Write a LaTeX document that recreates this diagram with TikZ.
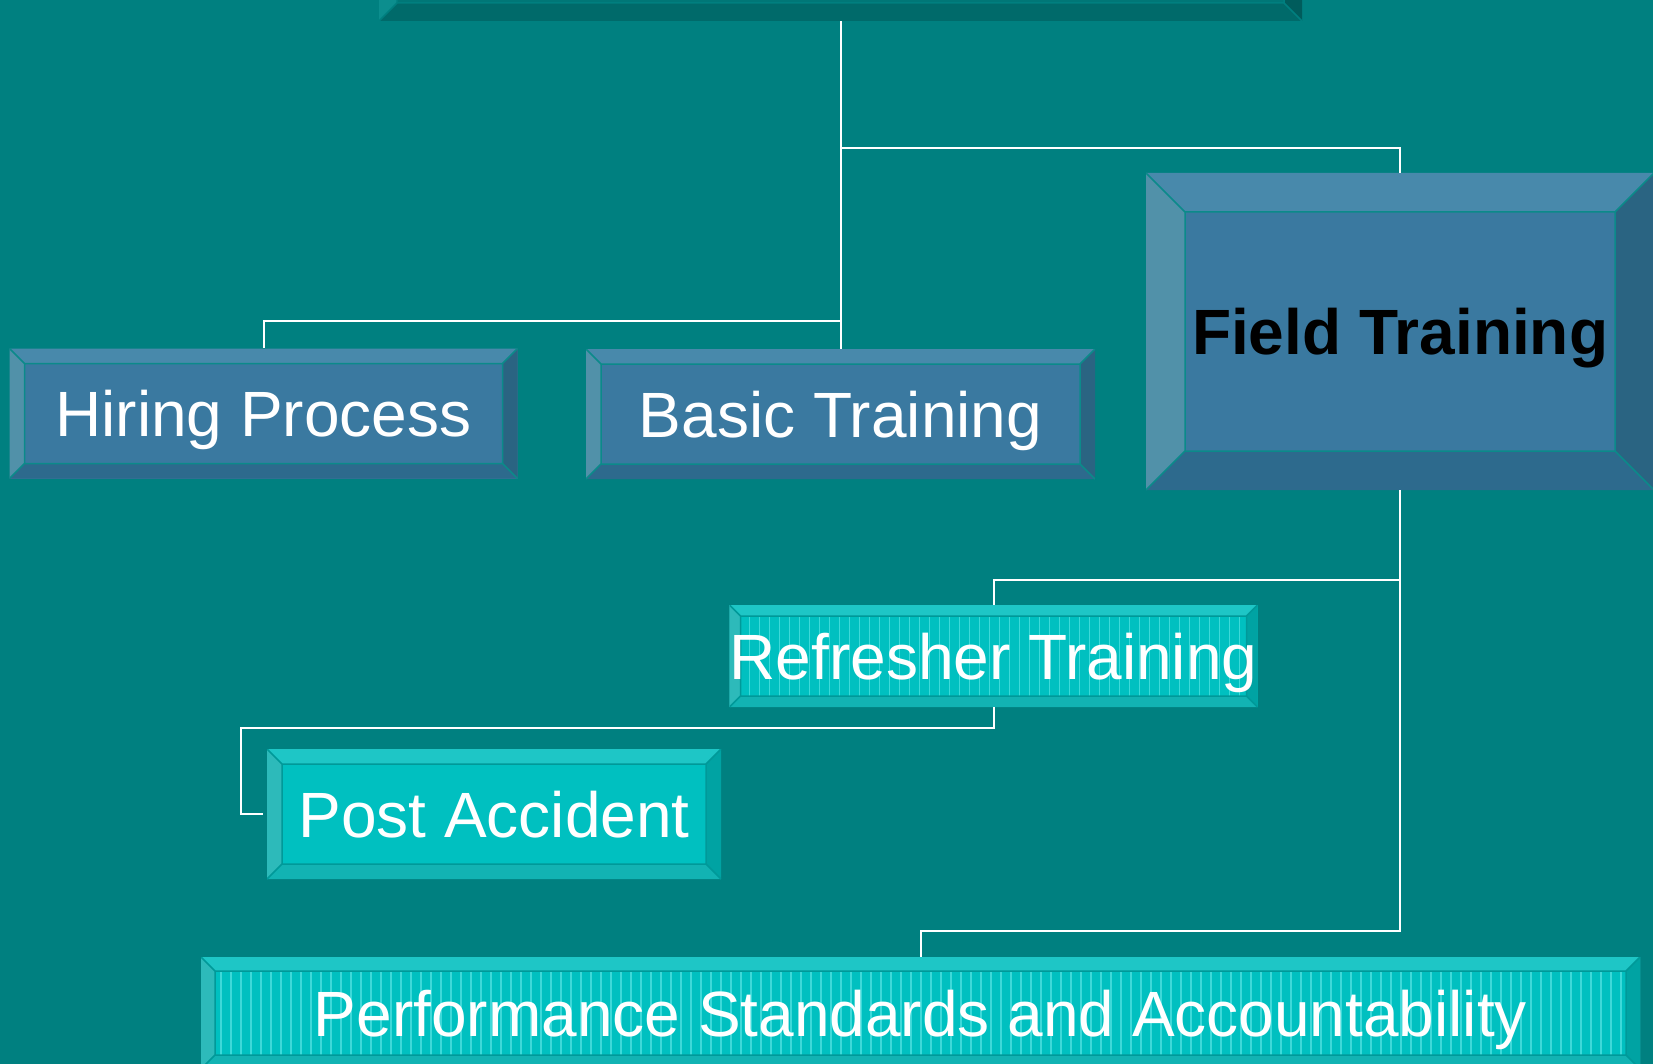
\documentclass[tikz,border=0pt]{standalone}
\usepackage{fontspec}
\setmainfont{Liberation Sans}
\usepackage{tikz}
\usetikzlibrary{positioning}

\definecolor{bgteal}{HTML}{008080}
\definecolor{blueface}{HTML}{3A79A0}
\definecolor{bluetop}{HTML}{4889AB}
\definecolor{blueleft}{HTML}{5191A9}
\definecolor{blueright}{HTML}{2A6482}
\definecolor{bluebottom}{HTML}{2D6A8D}
\definecolor{blueline}{HTML}{0B8A8A}
\definecolor{cyanface}{HTML}{00C0C0}
\definecolor{cyantop}{HTML}{1EC6C6}
\definecolor{cyanleft}{HTML}{2DBABA}
\definecolor{cyanright}{HTML}{00A3A3}
\definecolor{cyanbottom}{HTML}{12B3B3}
\definecolor{cyanline}{HTML}{009999}
\definecolor{stripecol}{HTML}{3DD9D9}
\definecolor{tealface}{HTML}{007777}
\definecolor{tealtop}{HTML}{008A8A}
\definecolor{tealleft}{HTML}{0C8E8E}
\definecolor{tealright}{HTML}{005C5C}
\definecolor{tealbottom}{HTML}{006A6A}
\definecolor{tealline}{HTML}{007F7F}

\newcommand\boxfont{\fontsize{64pt}{72pt}\selectfont}
\def\bvextra{}
\newcommand\bvstripes{\foreach \s in {0,10,...,1440} {\draw [stripecol, line width=1.2pt] ([xshift=\s pt]pnw) -- ([xshift=\s pt]psw);}}

% four bevel faces round the inner face of a box
\newcommand\bvpaint{%
  \path (path picture bounding box.north west) coordinate (pnw)
        (path picture bounding box.north east) coordinate (pne)
        (path picture bounding box.south east) coordinate (pse)
        (path picture bounding box.south west) coordinate (psw);
  \path ([xshift= \bvsize pt, yshift=-\bvsize pt]pnw) coordinate (inw)
        ([xshift=-\bvsize pt, yshift=-\bvsize pt]pne) coordinate (ine)
        ([xshift=-\bvsize pt, yshift= \bvsize pt]pse) coordinate (ise)
        ([xshift= \bvsize pt, yshift= \bvsize pt]psw) coordinate (isw);
  \fill [\bvface  ] (pnw) rectangle (pse);
  \bvextra
  \fill [\bvtop   ] (pnw) -- (pne) -- (ine) -- (inw) -- cycle;
  \fill [\bvleft  ] (pnw) -- (inw) -- (isw) -- (psw) -- cycle;
  \fill [\bvright ] (pne) -- (ine) -- (ise) -- (pse) -- cycle;
  \fill [\bvbottom] (psw) -- (isw) -- (ise) -- (pse) -- cycle;
  \draw [\bvline, line width=1.5pt] (inw) rectangle (ise)
        (pnw) -- (inw) (pne) -- (ine) (pse) -- (ise) (psw) -- (isw);
}

\tikzset{
  bevelsize/.code={\def\bvsize{#1}},
  striped/.code={\let\bvextra\bvstripes},
  bluecolours/.code={\def\bvface{blueface}\def\bvtop{bluetop}\def\bvleft{blueleft}\def\bvright{blueright}\def\bvbottom{bluebottom}\def\bvline{blueline}},
  cyancolours/.code={\def\bvface{cyanface}\def\bvtop{cyantop}\def\bvleft{cyanleft}\def\bvright{cyanright}\def\bvbottom{cyanbottom}\def\bvline{cyanline}},
  tealcolours/.code={\def\bvface{tealface}\def\bvtop{tealtop}\def\bvleft{tealleft}\def\bvright{tealright}\def\bvbottom{tealbottom}\def\bvline{tealline}},
  bevelbox/.style={rectangle, inner sep=0pt, font=\boxfont, text height=46pt, text depth=0pt, path picture={\bvpaint}},
  bluebox/.style={bevelbox, bluecolours, text=white},
  cyanbox/.style={bevelbox, cyancolours, text=white},
  tealbox/.style={bevelbox, tealcolours},
  link/.style={draw=white, line width=2pt},
}

\begin{document}
\begin{tikzpicture}[x=1pt, y=-1pt]

\useasboundingbox (0,0) rectangle (1653,1064);
\clip (0,0) rectangle (1653,1064);
\fill [bgteal] (0,0) rectangle (1653,1064);

\node [tealbox  , bevelsize=18, minimum width=923pt , minimum height=122pt              ] (top)       at (840.5,-40)  {};
\node [bluebox  , bevelsize=15, minimum width=508pt , minimum height=130pt              ] (hiring)    at (263.5,413.5) {Hiring Process};
\node [bluebox  , bevelsize=15, minimum width=509pt , minimum height=130pt              ] (basic)     at (840.5,414)  {Basic Training};
\node [bluebox  , bevelsize=39, minimum width=508pt , minimum height=317pt, text=black, font=\boxfont\bfseries] (field) at (1400,331.5) {Field Training};
\node [cyanbox  , bevelsize=11, minimum width=528pt , minimum height=102pt, striped     ] (refresher) at (993.5,656)  {Refresher Training};
\node [cyanbox  , bevelsize=15, minimum width=454pt , minimum height=130pt              ] (post)      at (494,814)    {Post Accident};
\node [cyanbox  , bevelsize=14, minimum width=1439pt, minimum height=112pt, striped     ] (perf)      at (920.5,1013) {Performance Standards and Accountability};

\path [link] (top.south) -- (basic.north);
\path [link] (top.south) |- ([yshift=25pt]field.north) -- (field.north);
\path [link] (top.south) |- ([yshift=27pt]hiring.north) -- (hiring.north);
\path [link] (field.south) |- ([yshift=25pt]refresher.north) -- (refresher.north);
\path [link] (field.south) |- ([yshift=26pt]perf.north) -- (perf.north);
\path [link] (refresher.south) |- ([xshift=-26pt, yshift=21pt]post.north west) |- ([xshift=-4pt]post.west);

\end{tikzpicture}
\end{document}
